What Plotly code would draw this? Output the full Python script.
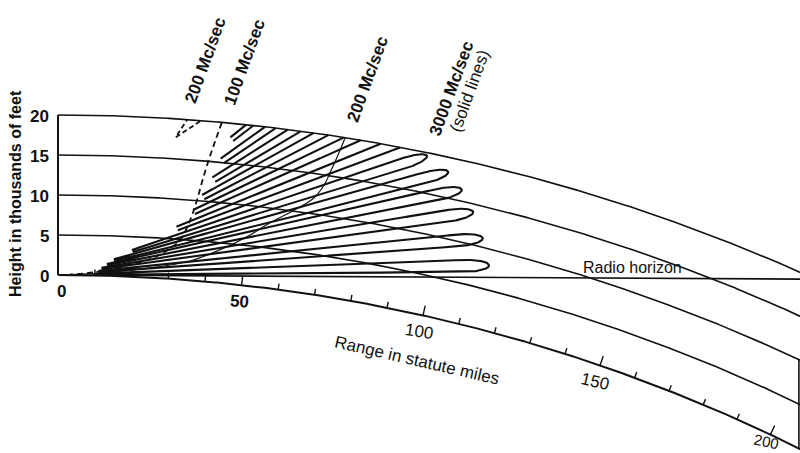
import numpy as np
import plotly.graph_objects as go

# ---------------- data ----------------
height_levels_kft = [5, 10, 15, 20]
height_tick_values = [0, 5, 10, 15, 20]
height_tick_labels = ["0", "5", "10", "15", "20"]
range_major_values = [0, 50, 100, 150, 200]
range_major_labels = ["0", "50", "100", "150", "200"]
range_minor_values = [10, 20, 30, 40, 60, 70, 80, 90, 110, 120, 130, 140, 160, 170, 180, 190]

# 3000 Mc/sec lobes (solid): tip range (mi), tip height (kft), first drawn range (mi)
lobe_tip_range = [114.0, 110.7, 106.7, 102.6, 98.3, 92.3, 89.8, 86.5, 83.2, 79.7, 76.1, 72.4]
lobe_tip_height = [8.0, 11.1, 14.0, 16.4, 18.2, 19.6, 22.2, 24.7, 27.0, 29.1, 31.2, 33.1]
lobe_start_range = [10.3, 11.1, 11.8, 13.3, 15.2, 20.2, 32.4, 37.0, 39.5, 42.4, 44.7, 47.3]
lobe_half_width_deg = [0.85, 0.85, 0.85, 0.85, 0.85, 0.85, 0.85, 0.85, 0.85, 0.85, 0.8, 0.6]

# 100 Mc/sec coverage boundary (dashed)
mc100_range = [40.7, 39.4, 38.1, 37.0, 36.1, 35.1, 34.0, 32.4, 29.4, 24.7, 18.1, 10.0, 3.3]
mc100_height = [20.0, 17.5, 14.9, 12.4, 10.1, 8.15, 6.5, 4.9, 3.6, 2.3, 1.3, 0.4, 0.07]

# 200 Mc/sec dashed piece near the top
mc200a_range = [35.3, 29.5, 32.0]
mc200a_height = [19.9, 17.7, 19.95]

# 200 Mc/sec thin solid boundary
mc200b_range = [71.5, 70.4, 69.3, 68.1, 66.0, 62.8, 59.2, 55.1, 51.2, 47.0, 42.0, 35.5, 24.9, 11.4, 3.3]
mc200b_height = [20.0, 17.7, 15.7, 13.75, 11.96, 10.6, 9.35, 7.97, 6.5, 5.15, 3.8, 2.4, 1.2, 0.3, 0.04]

# radio horizon (straight ray from antenna)
horizon_range = [0.0, 190.1]
horizon_height = [0.0, 19.2]

# right frame edge
frame_edge_range = 208.6
frame_edge_top_kft = 10

# ---------------- curved-earth projection ----------------
X0, Y0 = 58.0, 275.0
R_PX = 1670.0
PX_MI = 3.68
PX_KFT = 8.0
INK = "#111111"
FONT = "Liberation Sans, Arial, sans-serif"


def to_xy(r, h):
    r = np.asarray(r, float)
    h = np.asarray(h, float)
    th = r * PX_MI / R_PX
    rho = R_PX + h * PX_KFT
    return X0 + rho * np.sin(th), Y0 + R_PX - rho * np.cos(th)


def height_of(x, y):
    return (np.hypot(x - X0, Y0 + R_PX - y) - R_PX) / PX_KFT


fig = go.Figure()


def add_line(x, y, width=1.6, dash="solid", shape="linear"):
    fig.add_trace(go.Scatter(x=list(x), y=list(y), mode="lines",
                             line=dict(color=INK, width=width, dash=dash, shape=shape),
                             hoverinfo="skip", showlegend=False))


# earth surface and height curves
rr = np.linspace(0, 216, 400)
x, y = to_xy(rr, np.zeros_like(rr))
add_line(x, y, width=2.0)
for h in height_levels_kft:
    x, y = to_xy(rr, np.full_like(rr, h))
    add_line(x, y, width=1.6)

# vertical height axis at range 0
x, y = to_xy([0, 0], [0, max(height_levels_kft)])
add_line(x, y, width=2.0)

# right frame edge (vertical)
ex, ey0 = to_xy(frame_edge_range, 0)
xs, ys = to_xy(rr, np.full_like(rr, frame_edge_top_kft))
ey1 = np.interp(float(ex), xs, ys)
add_line([float(ex), float(ex)], [float(ey0), float(ey1)], width=1.6)

# range ticks
tx, ty = [], []
for r in range_minor_values + range_major_values[1:]:
    L = 1.25 if r in range_major_values else 0.75
    a, b = to_xy([r, r], [0, L])
    tx += list(a) + [None]
    ty += list(b) + [None]
add_line(tx, ty, width=1.4)

# radio horizon
hx, hy = to_xy(horizon_range, horizon_height)
slope = (hy[1] - hy[0]) / (hx[1] - hx[0])
add_line([hx[0], 820], [hy[0], hy[0] + slope * (820 - hx[0])], width=1.6)

# 3000 Mc/sec lobes
lx_all, ly_all = [], []
for tr, th_, sr, hw in zip(lobe_tip_range, lobe_tip_height, lobe_start_range, lobe_half_width_deg):
    tipx, tipy = to_xy(tr, th_)
    a = np.arctan2(Y0 - tipy, tipx - X0)
    D = np.hypot(tipx - X0, Y0 - tipy)
    sx, _ = to_xy(sr, 0)
    s0 = (sx - X0) / np.cos(a)
    s = np.linspace(s0, D, 500)
    cap = 26.0
    w = np.radians(hw) * s
    t = np.clip((s - (D - cap)) / cap, 0, 1)
    w = w * np.sqrt(1 - t ** 2)
    ux, uy = np.cos(a), -np.sin(a)
    nx, ny = np.sin(a), np.cos(a)
    axx, axy = X0 + s * ux, Y0 + s * uy
    px = np.concatenate([axx + w * nx, (axx - w * nx)[::-1]])
    py = np.concatenate([axy + w * ny, (axy - w * ny)[::-1]])
    hh = height_of(px, py)
    mask = hh > max(height_levels_kft)
    px = np.where(mask, np.nan, px)
    py = np.where(mask, np.nan, py)
    lx_all += [None if np.isnan(v) else float(v) for v in px] + [None]
    ly_all += [None if np.isnan(v) else float(v) for v in py] + [None]
add_line(lx_all, ly_all, width=2.1)

# 100 Mc/sec dashed
x, y = to_xy(mc100_range, mc100_height)
add_line(x, y, width=1.8, dash="6px,4px", shape="spline")
# 200 Mc/sec dashed piece
x, y = to_xy(mc200a_range, mc200a_height)
add_line(x, y, width=1.8, dash="5px,3px")
# 200 Mc/sec thin solid
x, y = to_xy(mc200b_range, mc200b_height)
add_line(x, y, width=1.2, shape="spline")

# ---------------- text ----------------
ann = []
for v, lab in zip(height_tick_values, height_tick_labels):
    ax_, ay_ = to_xy(0, v)
    ann.append(dict(x=float(ax_) - 7, y=float(ay_) + 1, text="<b>%s</b>" % lab, xanchor="right",
                    yanchor="middle", font=dict(size=17)))
for v, lab in zip(range_major_values, range_major_labels):
    ax_, ay_ = to_xy(v, -2.1)
    ang = np.degrees(v * PX_MI / R_PX) * 0.7
    txt = "<b>%s</b>" % lab if v <= 50 else lab
    ax_ = float(ax_) + (3 if v == 0 else 0)
    ay_ = float(ay_)
    size = 17
    if ay_ > 430:  # keep the last label inside the picture, below the curve
        ax_ += 3
        ay_ = 441.0
        size = 15
        ang = 12
    ann.append(dict(x=ax_, y=ay_, text=txt, textangle=ang,
                    xanchor="center", yanchor="middle", font=dict(size=size)))

ann += [
    dict(x=15, y=194, text="<b>Height in thousands of feet</b>", textangle=-90, font=dict(size=16)),
    dict(x=417, y=360, text="Range in statute miles", textangle=13, font=dict(size=17)),
    dict(x=632, y=267, text="Radio horizon", font=dict(size=16)),
    dict(x=205, y=60, text="<b>200 Mc/sec</b>", textangle=-70, font=dict(size=17)),
    dict(x=244.5, y=62.5, text="<b>100 Mc/sec</b>", textangle=-70, font=dict(size=17)),
    dict(x=367.5, y=79.5, text="<b>200 Mc/sec</b>", textangle=-70, font=dict(size=17)),
    dict(x=451.5, y=88.5, text="<b>3000 Mc/sec</b>", textangle=-70, font=dict(size=17)),
    dict(x=469.5, y=91.5, text="(solid lines)", textangle=-70, font=dict(size=17)),
]
for a in ann:
    a.setdefault("xanchor", "center")
    a.setdefault("yanchor", "middle")
    a["showarrow"] = False
    a["xref"] = "x"
    a["yref"] = "y"
    a["font"] = dict(family=FONT, color=INK, size=a["font"]["size"])

fig.update_layout(
    width=800, height=453,
    margin=dict(l=0, r=0, t=0, b=0),
    paper_bgcolor="white", plot_bgcolor="white",
    xaxis=dict(range=[0, 800], visible=False, fixedrange=True),
    yaxis=dict(range=[453, 0], visible=False, fixedrange=True),
    showlegend=False,
    annotations=ann,
)
fig.write_html("out.html")
